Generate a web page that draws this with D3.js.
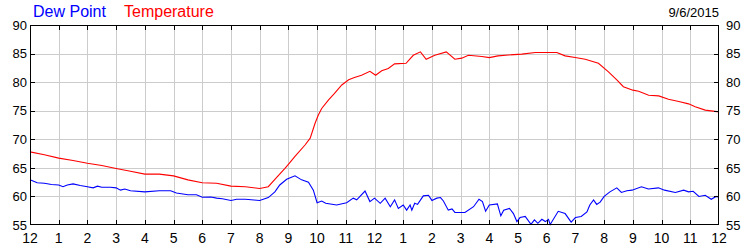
<!DOCTYPE html>
<html lang="en">
<head>
    <meta charset="UTF-8">
    <title>Dew Point and Temperature</title>
    <script src="https://d3js.org/d3.v7.min.js"></script>
    <style>
        body { margin: 0; background: #fff; }
        svg text { font-family: "Liberation Sans", Arial, sans-serif; }
    </style>
</head>
<body>
    <div id="chart"></div>
    <script>
        // Hour labels along the bottom (midnight to midnight)
        const hourLabels = ["12", "1", "2", "3", "4", "5", "6", "7", "8", "9", "10", "11",
                            "12", "1", "2", "3", "4", "5", "6", "7", "8", "9", "10", "11", "12"];
        const yTicks = [55, 60, 65, 70, 75, 80, 85, 90];
        const dateLabel = "9/6/2015";

        // [hour of day, degrees F]
        const temperature = [
            [0, 67.8], [0.5, 67.3], [1, 66.7], [1.5, 66.3], [2, 65.8], [2.5, 65.4], [3, 64.9],
            [3.5, 64.4], [4, 63.9], [4.5, 63.9], [5, 63.6], [5.5, 62.9], [6, 62.4], [6.5, 62.3],
            [7, 61.8], [7.5, 61.7], [8, 61.4], [8.3, 61.7], [8.53, 63.0], [8.88, 64.9], [9.0, 65.6],
            [9.23, 67.0], [9.58, 69.0], [9.76, 70.2], [9.93, 72.8], [10.04, 74.2], [10.16, 75.4],
            [10.4, 76.9], [10.6, 78.0], [10.86, 79.5], [11.1, 80.4], [11.3, 80.8], [11.55, 81.2],
            [11.84, 81.9], [12.04, 81.2], [12.25, 82.0], [12.48, 82.4], [12.7, 83.2], [13.1, 83.3],
            [13.35, 84.7], [13.6, 85.3], [13.8, 84.0], [14.1, 84.7], [14.5, 85.3], [14.8, 84.0],
            [15.04, 84.2], [15.27, 84.7], [15.74, 84.5], [16.0, 84.3], [16.3, 84.6], [16.67, 84.75],
            [17.13, 84.9], [17.6, 85.2], [18.35, 85.2], [18.64, 84.6], [18.99, 84.3], [19.34, 84.0],
            [19.8, 83.3], [20.15, 81.8], [20.44, 80.4], [20.67, 79.2], [21.0, 78.6], [21.2, 78.4],
            [21.55, 77.7], [21.9, 77.6], [22.24, 77.0], [22.6, 76.6], [22.94, 76.2], [23.17, 75.7],
            [23.52, 75.1], [24, 74.8]
        ];

        const dewPoint = [
            [0, 62.9], [0.25, 62.4], [0.5, 62.3], [0.75, 62.1], [1, 62.0], [1.15, 61.7], [1.3, 62.0],
            [1.5, 62.2], [1.75, 61.9], [2, 61.7], [2.2, 61.5], [2.35, 61.8], [2.5, 61.6], [2.8, 61.6],
            [3, 61.5], [3.15, 61.1], [3.3, 61.3], [3.5, 61.0], [4, 60.8], [4.5, 61.0], [4.9, 61.0],
            [5.1, 60.6], [5.5, 60.3], [5.8, 60.3], [6, 59.85], [6.3, 59.9], [6.5, 59.7], [6.7, 59.6],
            [7, 59.3], [7.2, 59.5], [7.5, 59.5], [8, 59.3], [8.3, 59.8], [8.53, 60.8], [8.7, 62.0],
            [8.94, 63.0], [9.23, 63.6], [9.46, 62.9], [9.7, 62.5], [9.87, 61.1], [10.0, 58.9],
            [10.16, 59.2], [10.3, 58.8], [10.68, 58.5], [11.03, 58.9], [11.26, 59.7], [11.38, 59.4],
            [11.67, 60.95], [11.84, 59.1], [12.0, 59.7], [12.2, 58.8], [12.37, 59.7], [12.55, 58.2],
            [12.7, 59.4], [12.83, 57.9], [13.0, 58.5], [13.12, 57.6], [13.24, 58.5], [13.3, 57.6],
            [13.4, 58.8], [13.5, 58.6], [13.7, 60.1], [13.88, 60.2], [14.0, 59.3], [14.17, 59.7],
            [14.3, 59.8], [14.4, 59.2], [14.57, 57.6], [14.7, 57.8], [14.8, 57.2], [15.15, 57.2],
            [15.45, 58.2], [15.64, 59.5], [15.76, 59.1], [15.87, 57.4], [16.0, 58.5], [16.28, 58.7],
            [16.4, 56.6], [16.5, 57.6], [16.7, 57.9], [16.84, 57.0], [16.96, 55.6], [17.07, 56.3],
            [17.25, 56.5], [17.45, 55.1], [17.57, 55.9], [17.69, 55.3], [17.83, 56.0], [17.95, 55.6],
            [18.06, 56.0], [18.12, 55.1], [18.4, 57.4], [18.64, 57.0], [18.85, 55.5], [19.0, 56.3],
            [19.2, 56.5], [19.4, 57.3], [19.5, 58.5], [19.63, 59.4], [19.74, 58.6], [19.86, 59.0],
            [20.0, 60.0], [20.2, 60.8], [20.44, 61.5], [20.6, 60.7], [20.79, 61.0], [20.97, 61.1],
            [21.3, 61.7], [21.54, 61.3], [21.89, 61.5], [22.1, 61.1], [22.48, 60.7], [22.77, 61.1],
            [22.94, 60.8], [23.1, 60.9], [23.3, 60.0], [23.52, 60.2], [23.73, 59.5], [23.9, 60.0],
            [24, 59.85]
        ];

        const width = 750, height = 250;
        const margin = { top: 25, right: 31, bottom: 25, left: 30 };
        const tickLen = 5;

        const svg = d3.select("#chart").append("svg")
            .attr("width", width)
            .attr("height", height);

        const x = d3.scaleLinear()
            .domain([0, 24])
            .range([margin.left, width - margin.right]);

        const y = d3.scaleLinear()
            .domain([55, 90])
            .range([height - margin.bottom, margin.top]);

        const hours = d3.range(0, 25);

        // gridlines
        svg.append("g")
            .selectAll("line.v")
            .data(hours.slice(1, -1))
            .join("line")
            .attr("x1", d => Math.round(x(d)) + 0.5)
            .attr("x2", d => Math.round(x(d)) + 0.5)
            .attr("y1", margin.top)
            .attr("y2", height - margin.bottom)
            .attr("stroke", "#cccccc");

        svg.append("g")
            .selectAll("line.h")
            .data(yTicks.slice(1, -1))
            .join("line")
            .attr("x1", margin.left)
            .attr("x2", width - margin.right)
            .attr("y1", d => Math.round(y(d)) + 0.5)
            .attr("y2", d => Math.round(y(d)) + 0.5)
            .attr("stroke", "#cccccc");

        // data lines
        const line = d3.line()
            .x(d => x(d[0]))
            .y(d => y(d[1]));

        svg.append("path")
            .datum(dewPoint)
            .attr("fill", "none")
            .attr("stroke", "#0000ff")
            .attr("stroke-width", 1.1)
            .attr("d", line);

        svg.append("path")
            .datum(temperature)
            .attr("fill", "none")
            .attr("stroke", "#ff0000")
            .attr("stroke-width", 1.1)
            .attr("d", line);

        // frame
        svg.append("rect")
            .attr("x", margin.left + 0.5)
            .attr("y", margin.top + 0.5)
            .attr("width", width - margin.left - margin.right - 1)
            .attr("height", height - margin.top - margin.bottom - 1)
            .attr("fill", "none")
            .attr("stroke", "#000");

        // inward ticks, top and bottom
        const xt = svg.append("g").attr("stroke", "#000");
        hours.slice(1, -1).forEach(h => {
            const px = Math.round(x(h)) + 0.5;
            xt.append("line").attr("x1", px).attr("x2", px)
                .attr("y1", margin.top).attr("y2", margin.top + tickLen);
            xt.append("line").attr("x1", px).attr("x2", px)
                .attr("y1", height - margin.bottom).attr("y2", height - margin.bottom - tickLen);
        });
        // inward ticks, left and right
        yTicks.slice(1, -1).forEach(v => {
            const py = Math.round(y(v)) + 0.5;
            xt.append("line").attr("x1", margin.left).attr("x2", margin.left + tickLen)
                .attr("y1", py).attr("y2", py);
            xt.append("line").attr("x1", width - margin.right).attr("x2", width - margin.right - tickLen)
                .attr("y1", py).attr("y2", py);
        });

        // tick labels
        svg.append("g")
            .selectAll("text")
            .data(hours)
            .join("text")
            .attr("x", d => x(d))
            .attr("y", height - 7)
            .attr("text-anchor", "middle")
            .attr("font-size", 14)
            .attr("fill", "#000")
            .text(d => hourLabels[d]);

        svg.append("g")
            .selectAll("text")
            .data(yTicks)
            .join("text")
            .attr("x", margin.left - 3)
            .attr("y", d => y(d))
            .attr("dy", "0.36em")
            .attr("text-anchor", "end")
            .attr("font-size", 13)
            .attr("fill", "#000")
            .text(d => d);

        svg.append("g")
            .selectAll("text")
            .data(yTicks)
            .join("text")
            .attr("x", width - margin.right + 7)
            .attr("y", d => y(d))
            .attr("dy", "0.36em")
            .attr("text-anchor", "start")
            .attr("font-size", 13)
            .attr("fill", "#000")
            .text(d => d);

        // legend and date
        svg.append("text")
            .attr("x", 33).attr("y", 17)
            .attr("font-size", 16)
            .attr("fill", "#0000ff")
            .text("Dew Point");

        svg.append("text")
            .attr("x", 124).attr("y", 17)
            .attr("font-size", 16)
            .attr("fill", "#ff0000")
            .text("Temperature");

        svg.append("text")
            .attr("x", width - margin.right)
            .attr("y", 17)
            .attr("text-anchor", "end")
            .attr("font-size", 13)
            .attr("fill", "#000")
            .text(dateLabel);
    </script>
</body>
</html>
